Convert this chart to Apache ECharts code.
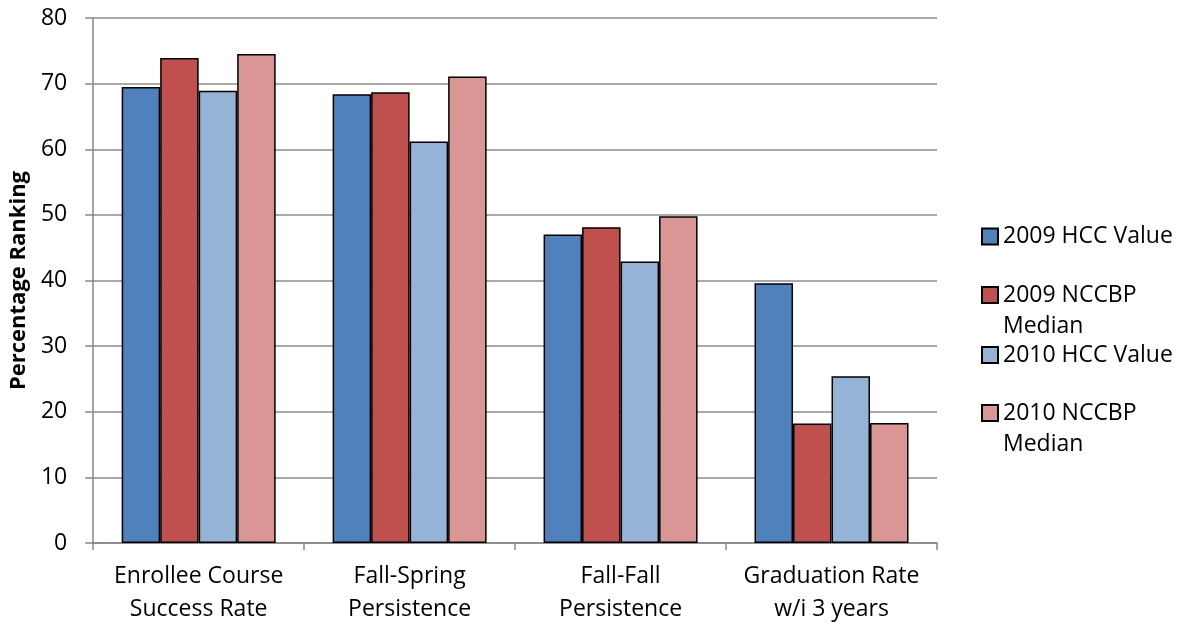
<!DOCTYPE html>
<html>
<head>
<meta charset="utf-8">
<script src="https://cdn.jsdelivr.net/npm/echarts@6/dist/echarts.min.js"></script>
<style>
  html, body { margin: 0; padding: 0; background: #fff; }
  #chart { width: 1183px; height: 626px; }
</style>
</head>
<body>
<div id="chart"></div>
<script>
// Benchmark categories (two-line labels)
const categories = [
  'Enrollee Course\nSuccess Rate',
  'Fall-Spring\nPersistence',
  'Fall-Fall\nPersistence',
  'Graduation Rate\nw/i 3 years'
];

// Series values, percentage ranking
const hcc2009 = [69.5, 68.4, 47.0, 39.6];
const nccbp2009 = [73.9, 68.7, 48.1, 18.2];
const hcc2010 = [68.9, 61.2, 42.9, 25.4];
const nccbp2010 = [74.5, 71.1, 49.8, 18.3];

const seriesNames = ['2009 HCC Value', '2009 NCCBP\nMedian', '2010 HCC Value', '2010 NCCBP\nMedian'];
const seriesColors = ['#4F81BD', '#C0504D', '#95B3D7', '#D99694'];
const seriesData = [hcc2009, nccbp2009, hcc2010, nccbp2010];

// Y axis ticks
const yMin = 0, yMax = 80, yStep = 10;

const FONT = '"Open Sans", "Noto Sans", sans-serif';
const FS = 23;
const LH = 31;

const chart = echarts.init(document.getElementById('chart'), null, { renderer: 'canvas' });

// One legend block per series so each entry sits at its own row;
// wrapped names get a blank lead line so the swatch lines up with the first line
const legendTops = [221, 248.5, 339.5, 366.5];
const legends = seriesNames.map((name, i) => {
  const twoLine = name.indexOf('\n') >= 0;
  return {
    data: [name],
    orient: 'vertical',
    left: 981,
    top: legendTops[i],
    itemWidth: 16,
    itemHeight: 16,
    itemGap: 0,
    padding: 0,
    icon: 'rect',
    formatter: twoLine ? (n => ' \n' + n) : '{name}',
    textStyle: {
      fontFamily: FONT,
      fontSize: FS,
      color: '#000',
      lineHeight: LH
    }
  };
});

chart.setOption({
  animation: false,
  textStyle: { fontFamily: FONT },
  legend: legends,
  grid: { left: 93, right: 246, top: 18, bottom: 83, containLabel: false },
  xAxis: {
    type: 'category',
    data: categories,
    axisLine: { show: true, lineStyle: { color: '#868686', width: 1.5 } },
    axisTick: { show: true, length: 7, lineStyle: { color: '#868686', width: 1.5 } },
    axisLabel: {
      color: '#000', fontSize: FS, fontFamily: FONT, lineHeight: 33,
      margin: 17, interval: 0
    }
  },
  yAxis: {
    type: 'value',
    min: yMin, max: yMax, interval: yStep,
    name: 'Percentage Ranking',
    nameLocation: 'middle',
    nameGap: 55,
    nameRotate: 90,
    nameTextStyle: { color: '#000', fontSize: 22, fontWeight: 'bold', fontFamily: FONT },
    axisLine: { show: true, lineStyle: { color: '#868686', width: 1.5 } },
    axisTick: { show: true, length: 8, lineStyle: { color: '#868686', width: 1.5 } },
    axisLabel: { color: '#000', fontSize: FS, fontFamily: FONT, margin: 26 },
    splitLine: { show: true, lineStyle: { color: '#8c8c8c', width: 1.5 } }
  },
  series: seriesNames.map((name, i) => ({
    name: name,
    type: 'bar',
    data: seriesData[i],
    barGap: '0%',
    barCategoryGap: '27%',
    itemStyle: { color: seriesColors[i], borderColor: '#000', borderWidth: 1.5 }
  }))
});
</script>
</body>
</html>
